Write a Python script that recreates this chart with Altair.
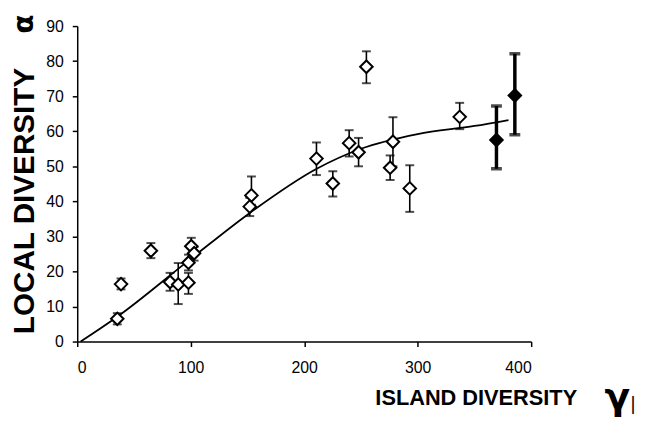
import altair as alt
import pandas as pd

# ---- data ----
island_div = [35.3, 38.6, 64.9, 81.8, 89.0, 98.0, 98.0, 100.5, 103.0, 153.5, 152.0,
              210.8, 225.2, 239.6, 247.9, 254.8, 275.7, 278.2, 293.0, 337.0, 369.4, 385.6]
local_div = [6.5, 16.4, 25.9, 17.0, 16.3, 16.8, 22.5, 27.2, 25.2, 41.7, 38.5,
             52.2, 45.1, 56.6, 54.0, 78.4, 49.6, 57.0, 43.7, 64.1, 57.5, 70.2]
err_hi = [8.1, 18.0, 28.1, 19.6, 22.4, 19.6, 24.8, 29.6, 27.0, 47.1, 41.0,
          56.8, 48.6, 60.3, 58.1, 82.8, 53.1, 64.0, 50.3, 68.1, 67.2, 82.1]
err_lo = [4.9, 14.9, 23.8, 14.5, 10.7, 13.6, 20.3, 25.0, 23.1, 39.0, 35.8,
          47.5, 41.4, 52.8, 50.0, 73.7, 46.1, 50.0, 37.0, 60.6, 49.3, 59.0]
kind = ["island"] * 20 + ["regional"] * 2

fit_x = [3, 35, 100, 150, 211, 250, 300, 350, 380]
fit_y = [0, 7.0, 23.6, 36.2, 49.3, 55.0, 59.2, 61.5, 63.2]

x_ticks = [0, 100, 200, 300, 400]
y_ticks = [0, 10, 20, 30, 40, 50, 60, 70, 80, 90]
symbols = ["α", "γ", "|"]

pts = pd.DataFrame({"x": island_div, "y": local_div, "hi": err_hi, "lo": err_lo, "kind": kind})
fit = pd.DataFrame({"x": fit_x, "y": fit_y})

xs = alt.Scale(domain=[0, 400], nice=False, zero=False)
ys = alt.Scale(domain=[0, 90], nice=False, zero=False)

x_axis = alt.Axis(
    values=x_ticks, title="ISLAND DIVERSITY", titleFont="Liberation Sans",
    titleFontSize=22, titleFontWeight="bold", titleColor="black",
    titleAlign="right", titleX=505, titleY=64, titleBaseline="alphabetic",
    labelPadding=13, labelOverlap=False)
y_axis = alt.Axis(
    values=y_ticks, title="LOCAL DIVERSITY", titleFont="Liberation Sans",
    titleFontSize=30, titleFontWeight="bold", titleColor="black",
    titleAngle=270, titleAlign="left", titleBaseline="middle",
    titleX=-53, titleY=311, labelPadding=9, labelOverlap=False)

X = alt.X("x:Q", scale=xs, axis=x_axis)
Y = alt.Y("y:Q", scale=ys, axis=y_axis)

base = alt.Chart(pts)

curve = alt.Chart(fit).mark_line(color="black", strokeWidth=1.8, interpolate="monotone").encode(
    x=alt.X("x:Q", scale=xs, axis=x_axis), y=alt.Y("y:Q", scale=ys, axis=y_axis))

is_reg = alt.datum.kind == "regional"

bars = base.mark_rule(color="black").encode(
    x=alt.X("x:Q", scale=xs, axis=x_axis), y=alt.Y("lo:Q", scale=ys, axis=y_axis), y2="hi:Q",
    strokeWidth=alt.condition(is_reg, alt.value(3.5), alt.value(1.6)))

caps = []
for k, th, w in [("island", 2, 9), ("regional", 3.5, 11)]:
    for f in ["hi", "lo"]:
        caps.append(base.transform_filter(alt.datum.kind == k).mark_tick(
            orient="horizontal", color="black", thickness=th, size=w).encode(
            x=alt.X("x:Q", scale=xs, axis=x_axis), y=alt.Y(f + ":Q", scale=ys, axis=y_axis)))

points = base.mark_point(shape="diamond", size=160, filled=True, stroke="black",
                         strokeWidth=2, opacity=1).encode(
    x=X, y=Y,
    fill=alt.condition(is_reg, alt.value("black"), alt.value("white")))

sym = pd.DataFrame({"t": symbols})
alpha = alt.Chart(sym).transform_filter(alt.datum.t == "α").mark_text(
    font="DejaVu Sans", fontWeight="bold", fontSize=28, angle=270,
    align="center", baseline="middle", color="black").encode(
    text="t:N", x=alt.value(-53), y=alt.value(-2))
gamma = alt.Chart(sym).transform_filter(alt.datum.t == "γ").mark_text(
    font="DejaVu Sans", fontWeight="bold", fontSize=38,
    align="center", baseline="middle", color="black").encode(
    text="t:N", x=alt.value(546), y=alt.value(376))
bar_sym = alt.Chart(sym).transform_filter(alt.datum.t == "|").mark_text(
    font="DejaVu Sans", fontSize=18,
    align="center", baseline="middle", color="black").encode(
    text="t:N", x=alt.value(562), y=alt.value(383))

chart = alt.layer(curve, bars, *caps, points, alpha, gamma, bar_sym).properties(
    width=459, height=319,
    autosize=alt.AutoSizeParams(type="none"),
    padding={"left": 70, "top": 16, "right": 108, "bottom": 75},
).configure_view(stroke=None).configure_axis(
    grid=False, domainColor="black", domainWidth=1.5, tickColor="black",
    tickWidth=1.5, tickSize=5, labelFont="Liberation Sans", labelFontSize=16,
    labelColor="black")

chart.save("out.html", embed_options={"renderer": "svg", "actions": False})
